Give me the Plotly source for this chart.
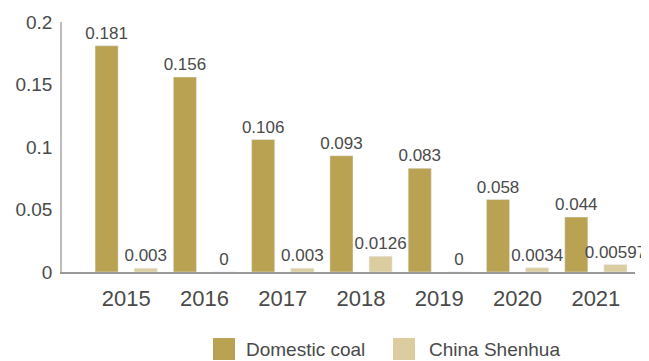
import plotly.graph_objects as go

anos = ["2015", "2016", "2017", "2018", "2019", "2020", "2021"]
carvao_domestico = [0.181, 0.156, 0.106, 0.093, 0.083, 0.058, 0.044]
china_shenhua = [0.003, 0, 0.003, 0.0126, 0, 0.0034, 0.00597]
rotulos_dom = ["0.181", "0.156", "0.106", "0.093", "0.083", "0.058", "0.044"]
rotulos_sh = ["0.003", "0", "0.003", "0.0126", "0", "0.0034", "0.00597"]
series = ["Domestic coal", "China Shenhua"]

cores = ["#B9A252", "#DCCDA0"]
cor_texto = "#4a4a4a"
fonte = "Liberation Sans, Arial, sans-serif"

# a pagina tem 8px de margem no body, entao a figura fica 8px menor
DESLOC = 8
LARG, ALT = 649 - DESLOC, 361 - DESLOC

fig = go.Figure()
for nome, valores, rotulos, cor in zip(series, [carvao_domestico, china_shenhua],
                                       [rotulos_dom, rotulos_sh], cores):
    fig.add_trace(go.Bar(
        x=anos, y=valores, name=nome,
        marker=dict(color=cor),
        text=rotulos, textposition="outside", cliponaxis=False,
        constraintext="none",
        textfont=dict(size=17, color=cor_texto),
        showlegend=False,
    ))

# Legenda manual (quadrados grandes como no original)
L, B, W, H = 62 - DESLOC, 272 - DESLOC, 573, 250  # area do grafico em pixels
def px_x(p):
    return (p - DESLOC - L) / W
def px_y(p):
    return (B - (p - DESLOC)) / H

legenda = [(213, 244), (393, 427)]
for (sx, tx), nome, cor in zip(legenda, series, cores):
    fig.add_shape(type="rect", xref="paper", yref="paper",
                  x0=px_x(sx), x1=px_x(sx + 22), y0=px_y(360), y1=px_y(338),
                  fillcolor=cor, line_width=0)
    fig.add_annotation(xref="paper", yref="paper", x=px_x(tx), y=px_y(349),
                       text=nome, showarrow=False, xanchor="left", yanchor="middle",
                       font=dict(size=19, color=cor_texto))

fig.update_layout(
    width=LARG, height=ALT,
    barmode="group", bargap=0, bargroupgap=0.41,
    plot_bgcolor="white", paper_bgcolor="white",
    font=dict(family=fonte, color=cor_texto),
    margin=dict(l=L, r=LARG - L - W, t=B - H, b=ALT - B),
)

fig.update_xaxes(
    type="category", range=[-0.82, 6.5],
    showline=True, linecolor="#999999", linewidth=1.5,
    ticks="", tickfont=dict(size=22, color=cor_texto),
    showgrid=False, automargin=False, ticklabelstandoff=6,
)
fig.update_yaxes(
    range=[0, 0.2], tickvals=[0, 0.05, 0.1, 0.15, 0.2],
    ticktext=["0", "0.05", "0.1", "0.15", "0.2"],
    showline=True, linecolor="#BBBBBB", linewidth=1.5,
    ticks="", tickfont=dict(size=19, color=cor_texto),
    showgrid=False, zeroline=False, ticklabelstandoff=4, automargin=False,
)

fig.write_html("out.html")
